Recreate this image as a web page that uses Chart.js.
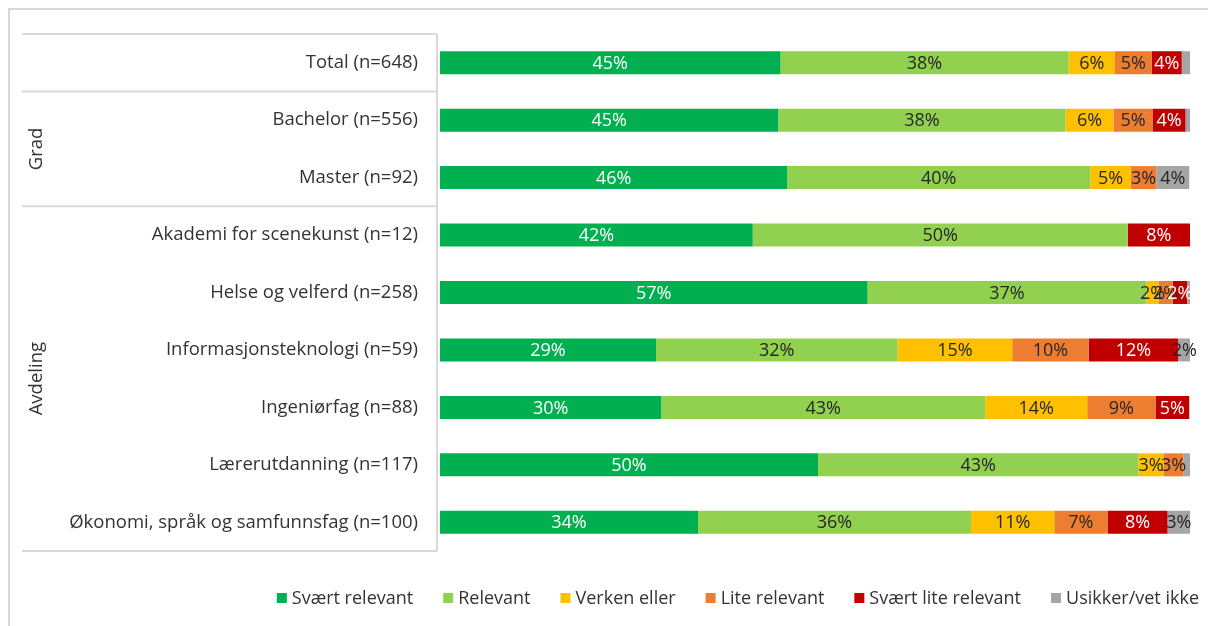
<!DOCTYPE html>
<html>
<head>
<meta charset="utf-8">
<script src="https://cdn.jsdelivr.net/npm/chart.js@4"></script>
<style>
  html, body { margin: 0; padding: 0; background: #fff; }
  #wrap { width: 1208px; height: 626px; position: relative; }
</style>
</head>
<body>
<div id="wrap"><canvas id="chart"></canvas></div>
<script>
// rader (kategorier) og grupper
const categories = [
  'Total (n=648)',
  'Bachelor (n=556)',
  'Master (n=92)',
  'Akademi for scenekunst (n=12)',
  'Helse og velferd (n=258)',
  'Informasjonsteknologi (n=59)',
  'Ingeniørfag (n=88)',
  'Lærerutdanning (n=117)',
  'Økonomi, språk og samfunnsfag (n=100)'
];
const groupNames = ['Grad', 'Avdeling'];
const groupStart = [1, 3];
const groupEnd = [2, 8];

// serier (prosent)
const seriesNames = ['Svært relevant', 'Relevant', 'Verken eller', 'Lite relevant', 'Svært lite relevant', 'Usikker/vet ikke'];
const svaertRelevant     = [45.4, 45.1, 46.3, 41.7, 57.0, 28.8, 29.5, 50.4, 34.4];
const relevant           = [38.4, 38.3, 40.4, 50.0, 37.2, 32.2, 43.2, 42.7, 36.4];
const verkenEller        = [6.2, 6.4, 5.4, 0, 1.6, 15.3, 13.6, 3.4, 11.1];
const liteRelevant       = [4.9, 5.2, 3.4, 0, 1.9, 10.2, 9.1, 2.6, 7.1];
const svaertLiteRelevant = [4.0, 4.4, 0, 8.3, 1.9, 11.9, 4.5, 0, 8.0];
const usikker            = [1.1, 0.6, 4.4, 0, 0.4, 1.7, 0, 0.9, 3.0];

const seriesColors = ['#00B050', '#92D050', '#FFC000', '#ED7D31', '#C00000', '#A5A5A5'];
const labelColors = ['#FFFFFF', '#262626', '#262626', '#262626', '#FFFFFF', '#262626'];

const FONT = '"Open Sans", "Noto Sans", sans-serif';
const LINE = '#D9D9D9';
const TEXT = '#333333';

const allSeries = [svaertRelevant, relevant, verkenEller, liteRelevant, svaertLiteRelevant, usikker];

// ---------- plugin: bakgrunn, ramme, gruppelinjer, etiketter, legend ----------
const decor = {
  id: 'decor',
  beforeDraw(chart) {
    const { ctx, width, height } = chart;
    ctx.save();
    ctx.fillStyle = '#fff';
    ctx.fillRect(0, 0, width, height);
    ctx.strokeStyle = LINE;
    ctx.lineWidth = 2;
    ctx.beginPath();
    ctx.moveTo(9, height + 5);
    ctx.lineTo(9, 9);
    ctx.lineTo(width + 5, 9);
    ctx.stroke();
    ctx.restore();
  },
  afterDatasetsDraw(chart) {
    const { ctx } = chart;
    ctx.save();
    ctx.font = '18px ' + FONT;
    ctx.textAlign = 'center';
    ctx.textBaseline = 'middle';
    chart.data.datasets.forEach((ds, di) => {
      const meta = chart.getDatasetMeta(di);
      meta.data.forEach((bar, i) => {
        const v = ds.data[i];
        if (v < 1.5) return;
        ctx.fillStyle = labelColors[di];
        ctx.fillText(Math.round(v) + '%', (bar.x + bar.base) / 2, bar.y + 1);
      });
    });
    ctx.restore();
  },
  afterDraw(chart) {
    const { ctx, chartArea } = chart;
    const y = chart.scales.y;
    const left = 22, axisX = chartArea.left - 3;
    const mid = (a, b) => (y.getPixelForValue(a) + y.getPixelForValue(b)) / 2;
    ctx.save();
    ctx.strokeStyle = LINE;
    ctx.lineWidth = 2;
    ctx.beginPath();
    ctx.moveTo(axisX, chartArea.top);
    ctx.lineTo(axisX, chartArea.bottom);
    const hLines = [chartArea.top, chartArea.bottom];
    groupStart.forEach(s => hLines.push(mid(s - 1, s)));
    hLines.forEach(h => { ctx.moveTo(left, h); ctx.lineTo(axisX, h); });
    ctx.stroke();

    // gruppenavn (rotert)
    ctx.fillStyle = TEXT;
    ctx.font = '18.5px ' + FONT;
    ctx.textAlign = 'center';
    ctx.textBaseline = 'middle';
    groupNames.forEach((g, k) => {
      const top = mid(groupStart[k] - 1, groupStart[k]);
      const bot = groupEnd[k] === categories.length - 1 ? chartArea.bottom : mid(groupEnd[k], groupEnd[k] + 1);
      ctx.save();
      ctx.translate(37, (top + bot) / 2);
      ctx.rotate(-Math.PI / 2);
      ctx.fillText(g, 0, 0);
      ctx.restore();
    });

    // legend, høyrejustert
    ctx.font = '18px ' + FONT;
    ctx.textAlign = 'left';
    const box = 10, gapText = 5, gapItem = 30, ly = 598;
    const widths = seriesNames.map(n => box + gapText + ctx.measureText(n).width);
    const total = widths.reduce((a, b) => a + b, 0) + gapItem * (widths.length - 1);
    let x = 1199 - total;
    seriesNames.forEach((n, i) => {
      ctx.fillStyle = seriesColors[i];
      ctx.fillRect(x, ly - box / 2, box, box);
      ctx.fillStyle = TEXT;
      ctx.fillText(n, x + box + gapText, ly + 1);
      x += widths[i] + gapItem;
    });
    ctx.restore();
  }
};

new Chart(document.getElementById('chart'), {
  type: 'bar',
  data: {
    labels: categories,
    datasets: seriesNames.map((name, i) => ({
      label: name,
      data: allSeries[i],
      backgroundColor: seriesColors[i],
      borderWidth: 0,
      categoryPercentage: 0.8,
      barPercentage: 0.5
    }))
  },
  options: {
    indexAxis: 'y',
    responsive: true,
    maintainAspectRatio: false,
    animation: false,
    layout: { padding: { top: 34, right: 18, bottom: 75, left: 22 } },
    plugins: {
      legend: { display: false },
      tooltip: { enabled: false }
    },
    scales: {
      x: { stacked: true, min: 0, max: 100, display: false },
      y: {
        stacked: true,
        afterFit(scale) { scale.width = 418; },
        grid: { display: false, drawTicks: false },
        border: { display: false },
        ticks: {
          padding: 22,
          color: TEXT,
          font: { family: FONT, size: 18.5 }
        }
      }
    }
  },
  plugins: [decor]
});
</script>
</body>
</html>
